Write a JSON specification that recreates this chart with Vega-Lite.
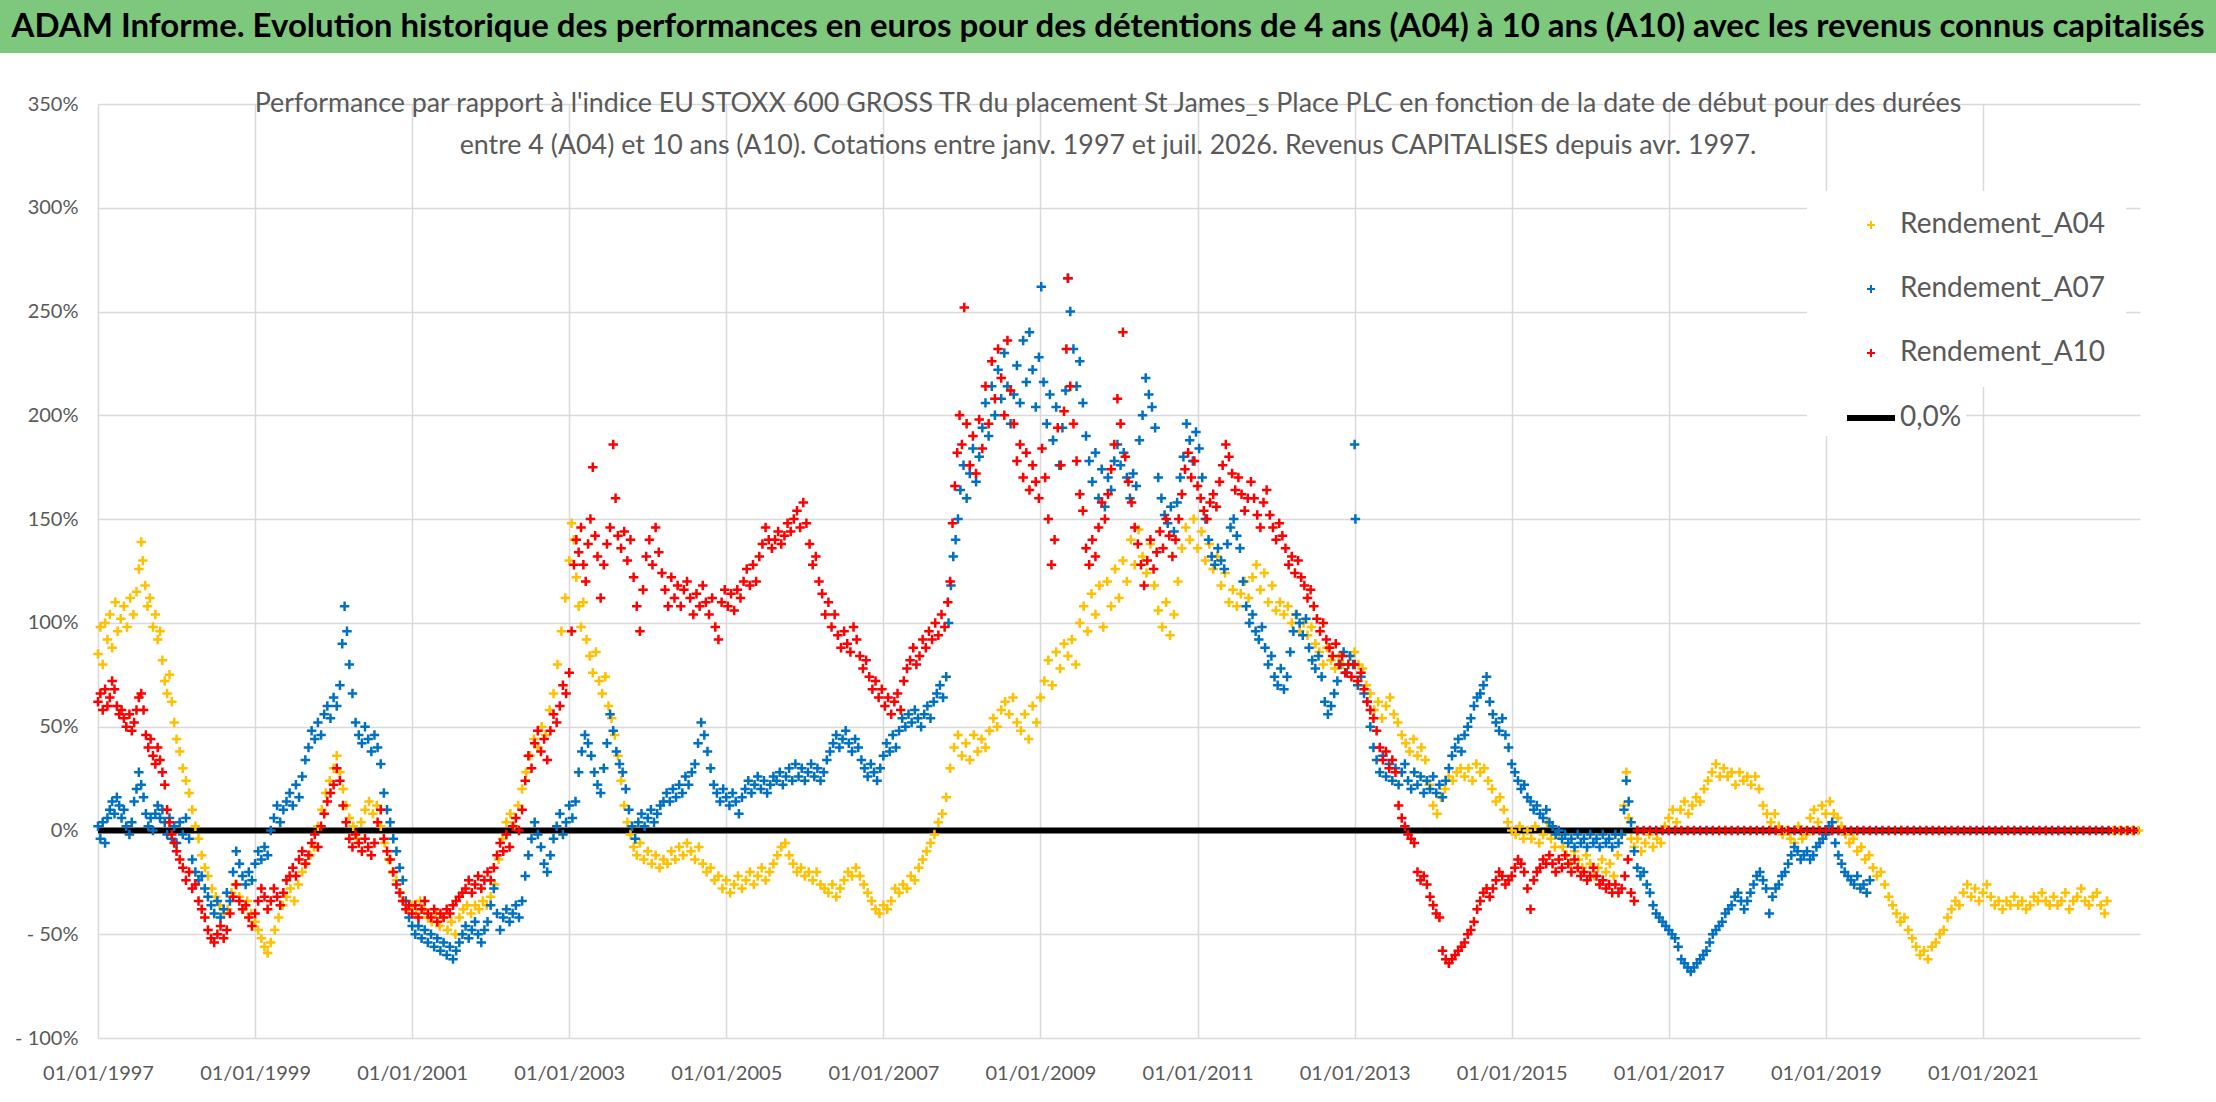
{
  "$schema": "https://vega.github.io/schema/vega-lite/v6.json",
  "background": "white",
  "padding": 0,
  "spacing": 38,
  "config": {
    "view": {"stroke": null},
    "axis": {
      "labelFont": "Lato",
      "labelColor": "#595959",
      "labelFontSize": 20,
      "gridColor": "#d9d9d9",
      "gridWidth": 1.5,
      "domain": false,
      "ticks": false,
      "labelFlush": false,
      "labelOverlap": false
    }
  },
  "datasets": {
    "A04": [
      {"t":1997.00,"v":85},{"t":1997.03,"v":98},{"t":1997.06,"v":80},{"t":1997.09,"v":100},{"t":1997.12,"v":92},{"t":1997.15,"v":104},{"t":1997.18,"v":88},{"t":1997.22,"v":110},{"t":1997.25,"v":96},{"t":1997.29,"v":102},{"t":1997.33,"v":108},{"t":1997.37,"v":98},{"t":1997.41,"v":112},{"t":1997.45,"v":104},{"t":1997.49,"v":115},{"t":1997.52,"v":126},{"t":1997.55,"v":139},{"t":1997.57,"v":130},{"t":1997.60,"v":118},{"t":1997.63,"v":108},{"t":1997.66,"v":112},{"t":1997.70,"v":98},{"t":1997.73,"v":104},{"t":1997.76,"v":92},{"t":1997.79,"v":96},{"t":1997.82,"v":82},{"t":1997.85,"v":72},{"t":1997.88,"v":66},{"t":1997.91,"v":75},{"t":1997.94,"v":62},{"t":1997.97,"v":52},
      {"t":1998.00,"v":44},{"t":1998.04,"v":38},{"t":1998.08,"v":30},{"t":1998.12,"v":24},{"t":1998.16,"v":18},{"t":1998.20,"v":10},{"t":1998.24,"v":2},{"t":1998.28,"v":-4},{"t":1998.32,"v":-12},{"t":1998.36,"v":-18},{"t":1998.40,"v":-22},{"t":1998.45,"v":-28},{"t":1998.50,"v":-32},{"t":1998.55,"v":-36},{"t":1998.60,"v":-40},{"t":1998.65,"v":-38},{"t":1998.70,"v":-30},{"t":1998.75,"v":-26},{"t":1998.80,"v":-32},{"t":1998.85,"v":-38},{"t":1998.90,"v":-34},{"t":1998.95,"v":-40},
      {"t":1999.00,"v":-44},{"t":1999.04,"v":-48},{"t":1999.08,"v":-52},{"t":1999.12,"v":-56},{"t":1999.16,"v":-59},{"t":1999.20,"v":-54},{"t":1999.25,"v":-48},{"t":1999.30,"v":-42},{"t":1999.35,"v":-36},{"t":1999.40,"v":-32},{"t":1999.45,"v":-28},{"t":1999.50,"v":-34},{"t":1999.55,"v":-26},{"t":1999.60,"v":-20},{"t":1999.65,"v":-16},{"t":1999.70,"v":-12},{"t":1999.75,"v":-8},{"t":1999.80,"v":2},{"t":1999.85,"v":10},{"t":1999.90,"v":18},{"t":1999.95,"v":24},
      {"t":2000.00,"v":30},{"t":2000.04,"v":36},{"t":2000.08,"v":28},{"t":2000.12,"v":20},{"t":2000.16,"v":12},{"t":2000.20,"v":6},{"t":2000.25,"v":2},{"t":2000.30,"v":-4},{"t":2000.35,"v":4},{"t":2000.40,"v":10},{"t":2000.45,"v":14},{"t":2000.50,"v":8},{"t":2000.55,"v":12},{"t":2000.60,"v":2},{"t":2000.65,"v":-6},{"t":2000.70,"v":-14},{"t":2000.75,"v":-20},{"t":2000.80,"v":-24},{"t":2000.85,"v":-30},{"t":2000.90,"v":-34},{"t":2000.95,"v":-38},
      {"t":2001.00,"v":-36},{"t":2001.05,"v":-40},{"t":2001.10,"v":-34},{"t":2001.15,"v":-38},{"t":2001.20,"v":-42},{"t":2001.25,"v":-44},{"t":2001.30,"v":-40},{"t":2001.35,"v":-46},{"t":2001.40,"v":-42},{"t":2001.45,"v":-48},{"t":2001.50,"v":-44},{"t":2001.55,"v":-50},{"t":2001.60,"v":-42},{"t":2001.65,"v":-38},{"t":2001.70,"v":-36},{"t":2001.75,"v":-40},{"t":2001.80,"v":-36},{"t":2001.85,"v":-38},{"t":2001.90,"v":-34},{"t":2001.95,"v":-36},
      {"t":2002.00,"v":-32},{"t":2002.05,"v":-26},{"t":2002.10,"v":-14},{"t":2002.15,"v":-4},{"t":2002.20,"v":4},{"t":2002.25,"v":8},{"t":2002.30,"v":2},{"t":2002.35,"v":12},{"t":2002.40,"v":20},{"t":2002.45,"v":28},{"t":2002.50,"v":36},{"t":2002.55,"v":44},{"t":2002.60,"v":40},{"t":2002.65,"v":50},{"t":2002.70,"v":46},{"t":2002.75,"v":58},{"t":2002.80,"v":66},{"t":2002.85,"v":80},{"t":2002.90,"v":96},{"t":2002.95,"v":112},
      {"t":2003.00,"v":130},{"t":2003.03,"v":148},{"t":2003.06,"v":140},{"t":2003.09,"v":122},{"t":2003.12,"v":108},{"t":2003.15,"v":98},{"t":2003.18,"v":110},{"t":2003.22,"v":92},{"t":2003.26,"v":84},{"t":2003.30,"v":76},{"t":2003.34,"v":86},{"t":2003.38,"v":72},{"t":2003.42,"v":66},{"t":2003.46,"v":74},{"t":2003.50,"v":60},{"t":2003.54,"v":54},{"t":2003.58,"v":46},{"t":2003.62,"v":36},{"t":2003.66,"v":24},{"t":2003.70,"v":12},{"t":2003.74,"v":4},{"t":2003.78,"v":-2},{"t":2003.82,"v":-8},{"t":2003.86,"v":-12},{"t":2003.90,"v":-6},{"t":2003.95,"v":-14},
      {"t":2004.00,"v":-10},{"t":2004.05,"v":-16},{"t":2004.10,"v":-12},{"t":2004.15,"v":-18},{"t":2004.20,"v":-14},{"t":2004.25,"v":-16},{"t":2004.30,"v":-10},{"t":2004.35,"v":-14},{"t":2004.40,"v":-8},{"t":2004.45,"v":-12},{"t":2004.50,"v":-6},{"t":2004.55,"v":-10},{"t":2004.60,"v":-14},{"t":2004.65,"v":-8},{"t":2004.70,"v":-16},{"t":2004.75,"v":-20},{"t":2004.80,"v":-18},{"t":2004.85,"v":-24},{"t":2004.90,"v":-22},{"t":2004.95,"v":-28},
      {"t":2005.00,"v":-24},{"t":2005.05,"v":-30},{"t":2005.10,"v":-26},{"t":2005.15,"v":-22},{"t":2005.20,"v":-28},{"t":2005.25,"v":-24},{"t":2005.30,"v":-20},{"t":2005.35,"v":-26},{"t":2005.40,"v":-22},{"t":2005.45,"v":-18},{"t":2005.50,"v":-24},{"t":2005.55,"v":-20},{"t":2005.60,"v":-16},{"t":2005.65,"v":-12},{"t":2005.70,"v":-8},{"t":2005.75,"v":-6},{"t":2005.80,"v":-12},{"t":2005.85,"v":-16},{"t":2005.90,"v":-20},{"t":2005.95,"v":-18},
      {"t":2006.00,"v":-22},{"t":2006.05,"v":-20},{"t":2006.10,"v":-24},{"t":2006.15,"v":-20},{"t":2006.20,"v":-26},{"t":2006.25,"v":-28},{"t":2006.30,"v":-30},{"t":2006.35,"v":-26},{"t":2006.40,"v":-32},{"t":2006.45,"v":-28},{"t":2006.50,"v":-24},{"t":2006.55,"v":-20},{"t":2006.60,"v":-22},{"t":2006.65,"v":-18},{"t":2006.70,"v":-22},{"t":2006.75,"v":-26},{"t":2006.80,"v":-30},{"t":2006.85,"v":-34},{"t":2006.90,"v":-38},{"t":2006.95,"v":-40},
      {"t":2007.00,"v":-36},{"t":2007.05,"v":-38},{"t":2007.10,"v":-34},{"t":2007.15,"v":-28},{"t":2007.20,"v":-30},{"t":2007.25,"v":-26},{"t":2007.30,"v":-28},{"t":2007.35,"v":-22},{"t":2007.40,"v":-24},{"t":2007.45,"v":-18},{"t":2007.50,"v":-14},{"t":2007.55,"v":-10},{"t":2007.60,"v":-6},{"t":2007.65,"v":-2},{"t":2007.70,"v":4},{"t":2007.75,"v":8},{"t":2007.80,"v":16},{"t":2007.85,"v":30},{"t":2007.90,"v":40},{"t":2007.95,"v":46},
      {"t":2008.00,"v":36},{"t":2008.05,"v":42},{"t":2008.10,"v":34},{"t":2008.15,"v":46},{"t":2008.20,"v":38},{"t":2008.25,"v":44},{"t":2008.30,"v":40},{"t":2008.35,"v":48},{"t":2008.40,"v":54},{"t":2008.45,"v":50},{"t":2008.50,"v":58},{"t":2008.55,"v":62},{"t":2008.60,"v":56},{"t":2008.65,"v":64},{"t":2008.70,"v":52},{"t":2008.75,"v":48},{"t":2008.80,"v":56},{"t":2008.85,"v":44},{"t":2008.90,"v":60},{"t":2008.95,"v":52},
      {"t":2009.00,"v":64},{"t":2009.05,"v":72},{"t":2009.10,"v":82},{"t":2009.15,"v":70},{"t":2009.20,"v":86},{"t":2009.25,"v":78},{"t":2009.30,"v":90},{"t":2009.35,"v":84},{"t":2009.40,"v":92},{"t":2009.45,"v":80},{"t":2009.50,"v":100},{"t":2009.55,"v":108},{"t":2009.60,"v":96},{"t":2009.65,"v":114},{"t":2009.70,"v":104},{"t":2009.75,"v":118},{"t":2009.80,"v":98},{"t":2009.85,"v":120},{"t":2009.90,"v":108},{"t":2009.95,"v":126},
      {"t":2010.00,"v":112},{"t":2010.05,"v":130},{"t":2010.10,"v":120},{"t":2010.15,"v":140},{"t":2010.20,"v":128},{"t":2010.25,"v":145},{"t":2010.30,"v":132},{"t":2010.35,"v":124},{"t":2010.40,"v":138},{"t":2010.45,"v":118},{"t":2010.50,"v":106},{"t":2010.55,"v":98},{"t":2010.60,"v":110},{"t":2010.65,"v":94},{"t":2010.70,"v":104},{"t":2010.75,"v":120},{"t":2010.80,"v":136},{"t":2010.85,"v":146},{"t":2010.90,"v":140},{"t":2010.95,"v":150},
      {"t":2011.00,"v":136},{"t":2011.05,"v":144},{"t":2011.10,"v":130},{"t":2011.15,"v":138},{"t":2011.20,"v":126},{"t":2011.25,"v":132},{"t":2011.30,"v":118},{"t":2011.35,"v":124},{"t":2011.40,"v":110},{"t":2011.45,"v":116},{"t":2011.50,"v":108},{"t":2011.55,"v":114},{"t":2011.60,"v":120},{"t":2011.65,"v":112},{"t":2011.70,"v":122},{"t":2011.75,"v":128},{"t":2011.80,"v":116},{"t":2011.85,"v":124},{"t":2011.90,"v":110},{"t":2011.95,"v":118},
      {"t":2012.00,"v":106},{"t":2012.05,"v":110},{"t":2012.10,"v":104},{"t":2012.15,"v":108},{"t":2012.20,"v":100},{"t":2012.25,"v":104},{"t":2012.30,"v":96},{"t":2012.35,"v":100},{"t":2012.40,"v":94},{"t":2012.45,"v":98},{"t":2012.50,"v":90},{"t":2012.55,"v":86},{"t":2012.60,"v":80},{"t":2012.65,"v":88},{"t":2012.70,"v":82},{"t":2012.75,"v":78},{"t":2012.80,"v":84},{"t":2012.85,"v":80},{"t":2012.90,"v":76},{"t":2012.95,"v":84},
      {"t":2013.00,"v":86},{"t":2013.05,"v":80},{"t":2013.10,"v":78},{"t":2013.15,"v":70},{"t":2013.20,"v":66},{"t":2013.25,"v":58},{"t":2013.30,"v":62},{"t":2013.35,"v":54},{"t":2013.40,"v":60},{"t":2013.45,"v":64},{"t":2013.50,"v":56},{"t":2013.55,"v":52},{"t":2013.60,"v":46},{"t":2013.65,"v":42},{"t":2013.70,"v":38},{"t":2013.75,"v":44},{"t":2013.80,"v":36},{"t":2013.85,"v":40},{"t":2013.90,"v":34},{"t":2013.95,"v":22},
      {"t":2014.00,"v":12},{"t":2014.05,"v":8},{"t":2014.10,"v":16},{"t":2014.15,"v":20},{"t":2014.20,"v":26},{"t":2014.25,"v":24},{"t":2014.30,"v":28},{"t":2014.35,"v":30},{"t":2014.40,"v":26},{"t":2014.45,"v":30},{"t":2014.50,"v":24},{"t":2014.55,"v":32},{"t":2014.60,"v":28},{"t":2014.65,"v":30},{"t":2014.70,"v":24},{"t":2014.75,"v":20},{"t":2014.80,"v":14},{"t":2014.85,"v":16},{"t":2014.90,"v":10},{"t":2014.95,"v":4},
      {"t":2015.00,"v":0},{"t":2015.05,"v":-2},{"t":2015.10,"v":2},{"t":2015.15,"v":-4},{"t":2015.20,"v":0},{"t":2015.25,"v":-4},{"t":2015.30,"v":2},{"t":2015.35,"v":-6},{"t":2015.40,"v":-2},{"t":2015.45,"v":4},{"t":2015.50,"v":-4},{"t":2015.55,"v":-8},{"t":2015.60,"v":-2},{"t":2015.65,"v":-8},{"t":2015.70,"v":-12},{"t":2015.75,"v":-16},{"t":2015.80,"v":-10},{"t":2015.85,"v":-14},{"t":2015.90,"v":-18},{"t":2015.95,"v":-12},
      {"t":2016.00,"v":-16},{"t":2016.05,"v":-22},{"t":2016.10,"v":-18},{"t":2016.15,"v":-14},{"t":2016.20,"v":-20},{"t":2016.25,"v":-16},{"t":2016.30,"v":-22},{"t":2016.35,"v":-12},{"t":2016.40,"v":-2},{"t":2016.43,"v":12},{"t":2016.46,"v":28},{"t":2016.49,"v":6},{"t":2016.52,"v":-4},{"t":2016.56,"v":-8},{"t":2016.60,"v":-4},{"t":2016.65,"v":-10},{"t":2016.70,"v":-6},{"t":2016.75,"v":-2},{"t":2016.80,"v":-8},{"t":2016.85,"v":-4},{"t":2016.90,"v":-6},{"t":2016.95,"v":2},
      {"t":2017.00,"v":6},{"t":2017.05,"v":10},{"t":2017.10,"v":4},{"t":2017.15,"v":10},{"t":2017.20,"v":14},{"t":2017.25,"v":8},{"t":2017.30,"v":12},{"t":2017.35,"v":16},{"t":2017.40,"v":14},{"t":2017.45,"v":20},{"t":2017.50,"v":24},{"t":2017.55,"v":28},{"t":2017.60,"v":32},{"t":2017.65,"v":26},{"t":2017.70,"v":30},{"t":2017.75,"v":26},{"t":2017.80,"v":28},{"t":2017.85,"v":22},{"t":2017.90,"v":28},{"t":2017.95,"v":24},
      {"t":2018.00,"v":26},{"t":2018.05,"v":22},{"t":2018.10,"v":26},{"t":2018.15,"v":20},{"t":2018.20,"v":12},{"t":2018.25,"v":8},{"t":2018.30,"v":4},{"t":2018.35,"v":8},{"t":2018.40,"v":2},{"t":2018.45,"v":-2},{"t":2018.50,"v":0},{"t":2018.55,"v":-4},{"t":2018.60,"v":-6},{"t":2018.65,"v":2},{"t":2018.70,"v":-4},{"t":2018.75,"v":-2},{"t":2018.80,"v":6},{"t":2018.85,"v":10},{"t":2018.90,"v":4},{"t":2018.95,"v":12},
      {"t":2019.00,"v":8},{"t":2019.05,"v":14},{"t":2019.10,"v":8},{"t":2019.15,"v":6},{"t":2019.20,"v":2},{"t":2019.25,"v":-2},{"t":2019.30,"v":-6},{"t":2019.35,"v":-4},{"t":2019.40,"v":-10},{"t":2019.45,"v":-8},{"t":2019.50,"v":-14},{"t":2019.55,"v":-12},{"t":2019.60,"v":-18},{"t":2019.65,"v":-22},{"t":2019.70,"v":-20},{"t":2019.75,"v":-26},{"t":2019.80,"v":-32},{"t":2019.85,"v":-36},{"t":2019.90,"v":-40},{"t":2019.95,"v":-44},
      {"t":2020.00,"v":-42},{"t":2020.05,"v":-48},{"t":2020.10,"v":-52},{"t":2020.15,"v":-56},{"t":2020.20,"v":-60},{"t":2020.25,"v":-58},{"t":2020.30,"v":-62},{"t":2020.35,"v":-56},{"t":2020.40,"v":-54},{"t":2020.45,"v":-50},{"t":2020.50,"v":-48},{"t":2020.55,"v":-42},{"t":2020.60,"v":-38},{"t":2020.65,"v":-34},{"t":2020.70,"v":-36},{"t":2020.75,"v":-30},{"t":2020.80,"v":-26},{"t":2020.85,"v":-32},{"t":2020.90,"v":-28},{"t":2020.95,"v":-34},
      {"t":2021.00,"v":-30},{"t":2021.05,"v":-26},{"t":2021.10,"v":-32},{"t":2021.15,"v":-36},{"t":2021.20,"v":-34},{"t":2021.25,"v":-38},{"t":2021.30,"v":-34},{"t":2021.35,"v":-36},{"t":2021.40,"v":-32},{"t":2021.45,"v":-36},{"t":2021.50,"v":-34},{"t":2021.55,"v":-38},{"t":2021.60,"v":-36},{"t":2021.65,"v":-32},{"t":2021.70,"v":-34},{"t":2021.75,"v":-30},{"t":2021.80,"v":-34},{"t":2021.85,"v":-36},{"t":2021.90,"v":-32},{"t":2021.95,"v":-36},
      {"t":2022.00,"v":-34},{"t":2022.05,"v":-30},{"t":2022.10,"v":-38},{"t":2022.15,"v":-34},{"t":2022.20,"v":-32},{"t":2022.25,"v":-28},{"t":2022.30,"v":-34},{"t":2022.35,"v":-36},{"t":2022.40,"v":-32},{"t":2022.45,"v":-30},{"t":2022.50,"v":-36},{"t":2022.55,"v":-40},{"t":2022.58,"v":-34},
      {"t":2022.66,"v":0},{"t":2022.74,"v":0},{"t":2022.82,"v":0},{"t":2022.90,"v":0},{"t":2022.98,"v":0}
    ],
    "A07": [
      {"t":1997.00,"v":2},{"t":1997.03,"v":-4},{"t":1997.06,"v":4},{"t":1997.09,"v":-6},{"t":1997.12,"v":6},{"t":1997.15,"v":10},{"t":1997.18,"v":14},{"t":1997.21,"v":8},{"t":1997.24,"v":16},{"t":1997.27,"v":12},{"t":1997.30,"v":6},{"t":1997.33,"v":10},{"t":1997.36,"v":2},{"t":1997.40,"v":-2},{"t":1997.43,"v":4},{"t":1997.46,"v":14},{"t":1997.49,"v":20},{"t":1997.52,"v":28},{"t":1997.55,"v":22},{"t":1997.58,"v":16},{"t":1997.61,"v":8},{"t":1997.64,"v":2},{"t":1997.67,"v":6},{"t":1997.70,"v":0},{"t":1997.73,"v":8},{"t":1997.76,"v":12},{"t":1997.79,"v":6},{"t":1997.82,"v":10},{"t":1997.85,"v":4},{"t":1997.88,"v":-2},{"t":1997.91,"v":6},{"t":1997.94,"v":-4},{"t":1997.97,"v":2},
      {"t":1998.00,"v":-6},{"t":1998.04,"v":4},{"t":1998.08,"v":-2},{"t":1998.12,"v":6},{"t":1998.16,"v":-4},{"t":1998.20,"v":-14},{"t":1998.24,"v":-20},{"t":1998.28,"v":-24},{"t":1998.32,"v":-22},{"t":1998.36,"v":-28},{"t":1998.40,"v":-32},{"t":1998.44,"v":-36},{"t":1998.48,"v":-40},{"t":1998.52,"v":-34},{"t":1998.56,"v":-42},{"t":1998.60,"v":-38},{"t":1998.64,"v":-30},{"t":1998.68,"v":-34},{"t":1998.72,"v":-20},{"t":1998.76,"v":-10},{"t":1998.80,"v":-16},{"t":1998.84,"v":-22},{"t":1998.88,"v":-26},{"t":1998.92,"v":-20},{"t":1998.96,"v":-24},
      {"t":1999.00,"v":-16},{"t":1999.04,"v":-10},{"t":1999.08,"v":-14},{"t":1999.12,"v":-8},{"t":1999.16,"v":-12},{"t":1999.20,"v":0},{"t":1999.24,"v":6},{"t":1999.28,"v":12},{"t":1999.32,"v":4},{"t":1999.36,"v":10},{"t":1999.40,"v":14},{"t":1999.44,"v":18},{"t":1999.48,"v":12},{"t":1999.52,"v":22},{"t":1999.56,"v":16},{"t":1999.60,"v":26},{"t":1999.64,"v":34},{"t":1999.68,"v":40},{"t":1999.72,"v":48},{"t":1999.76,"v":44},{"t":1999.80,"v":52},{"t":1999.84,"v":46},{"t":1999.88,"v":56},{"t":1999.92,"v":60},{"t":1999.96,"v":54},
      {"t":2000.00,"v":64},{"t":2000.04,"v":60},{"t":2000.08,"v":70},{"t":2000.11,"v":90},{"t":2000.14,"v":108},{"t":2000.17,"v":96},{"t":2000.20,"v":80},{"t":2000.24,"v":66},{"t":2000.28,"v":52},{"t":2000.32,"v":46},{"t":2000.36,"v":42},{"t":2000.40,"v":50},{"t":2000.44,"v":44},{"t":2000.48,"v":38},{"t":2000.52,"v":46},{"t":2000.56,"v":40},{"t":2000.60,"v":32},{"t":2000.64,"v":18},{"t":2000.68,"v":10},{"t":2000.72,"v":4},{"t":2000.76,"v":-4},{"t":2000.80,"v":-10},{"t":2000.84,"v":-18},{"t":2000.88,"v":-24},{"t":2000.92,"v":-34},{"t":2000.96,"v":-42},
      {"t":2001.00,"v":-46},{"t":2001.04,"v":-50},{"t":2001.08,"v":-46},{"t":2001.12,"v":-52},{"t":2001.16,"v":-48},{"t":2001.20,"v":-54},{"t":2001.24,"v":-50},{"t":2001.28,"v":-56},{"t":2001.32,"v":-52},{"t":2001.36,"v":-58},{"t":2001.40,"v":-54},{"t":2001.44,"v":-60},{"t":2001.48,"v":-56},{"t":2001.52,"v":-62},{"t":2001.56,"v":-58},{"t":2001.60,"v":-54},{"t":2001.64,"v":-50},{"t":2001.68,"v":-46},{"t":2001.72,"v":-52},{"t":2001.76,"v":-48},{"t":2001.80,"v":-44},{"t":2001.84,"v":-50},{"t":2001.88,"v":-54},{"t":2001.92,"v":-48},{"t":2001.96,"v":-44},
      {"t":2002.00,"v":-36},{"t":2002.04,"v":-28},{"t":2002.08,"v":-40},{"t":2002.12,"v":-48},{"t":2002.16,"v":-42},{"t":2002.20,"v":-38},{"t":2002.24,"v":-44},{"t":2002.28,"v":-40},{"t":2002.32,"v":-36},{"t":2002.36,"v":-42},{"t":2002.40,"v":-34},{"t":2002.44,"v":-22},{"t":2002.48,"v":-12},{"t":2002.52,"v":-4},{"t":2002.56,"v":4},{"t":2002.60,"v":-2},{"t":2002.64,"v":-8},{"t":2002.68,"v":-16},{"t":2002.72,"v":-20},{"t":2002.76,"v":-12},{"t":2002.80,"v":-4},{"t":2002.84,"v":2},{"t":2002.88,"v":8},{"t":2002.92,"v":-2},{"t":2002.96,"v":4},
      {"t":2003.00,"v":12},{"t":2003.04,"v":6},{"t":2003.08,"v":14},{"t":2003.12,"v":28},{"t":2003.16,"v":38},{"t":2003.20,"v":46},{"t":2003.24,"v":42},{"t":2003.28,"v":36},{"t":2003.32,"v":28},{"t":2003.36,"v":22},{"t":2003.40,"v":18},{"t":2003.44,"v":30},{"t":2003.48,"v":42},{"t":2003.52,"v":56},{"t":2003.56,"v":48},{"t":2003.60,"v":38},{"t":2003.64,"v":32},{"t":2003.68,"v":28},{"t":2003.72,"v":20},{"t":2003.76,"v":10},{"t":2003.80,"v":2},{"t":2003.84,"v":-4},{"t":2003.88,"v":4},{"t":2003.92,"v":8},{"t":2003.96,"v":2},
      {"t":2004.00,"v":6},{"t":2004.04,"v":10},{"t":2004.08,"v":4},{"t":2004.12,"v":8},{"t":2004.16,"v":12},{"t":2004.20,"v":14},{"t":2004.24,"v":18},{"t":2004.28,"v":14},{"t":2004.32,"v":20},{"t":2004.36,"v":16},{"t":2004.40,"v":22},{"t":2004.44,"v":18},{"t":2004.48,"v":26},{"t":2004.52,"v":22},{"t":2004.56,"v":28},{"t":2004.60,"v":32},{"t":2004.64,"v":42},{"t":2004.68,"v":52},{"t":2004.72,"v":46},{"t":2004.76,"v":38},{"t":2004.80,"v":30},{"t":2004.84,"v":22},{"t":2004.88,"v":18},{"t":2004.92,"v":14},{"t":2004.96,"v":20},
      {"t":2005.00,"v":16},{"t":2005.04,"v":12},{"t":2005.08,"v":18},{"t":2005.12,"v":14},{"t":2005.16,"v":8},{"t":2005.20,"v":16},{"t":2005.24,"v":20},{"t":2005.28,"v":24},{"t":2005.32,"v":18},{"t":2005.36,"v":22},{"t":2005.40,"v":26},{"t":2005.44,"v":20},{"t":2005.48,"v":24},{"t":2005.52,"v":18},{"t":2005.56,"v":22},{"t":2005.60,"v":26},{"t":2005.64,"v":24},{"t":2005.68,"v":28},{"t":2005.72,"v":22},{"t":2005.76,"v":26},{"t":2005.80,"v":30},{"t":2005.84,"v":24},{"t":2005.88,"v":32},{"t":2005.92,"v":26},{"t":2005.96,"v":30},
      {"t":2006.00,"v":24},{"t":2006.04,"v":28},{"t":2006.08,"v":32},{"t":2006.12,"v":26},{"t":2006.16,"v":30},{"t":2006.20,"v":24},{"t":2006.24,"v":28},{"t":2006.28,"v":34},{"t":2006.32,"v":38},{"t":2006.36,"v":42},{"t":2006.40,"v":46},{"t":2006.44,"v":40},{"t":2006.48,"v":44},{"t":2006.52,"v":48},{"t":2006.56,"v":42},{"t":2006.60,"v":38},{"t":2006.64,"v":44},{"t":2006.68,"v":40},{"t":2006.72,"v":34},{"t":2006.76,"v":30},{"t":2006.80,"v":26},{"t":2006.84,"v":32},{"t":2006.88,"v":28},{"t":2006.92,"v":24},{"t":2006.96,"v":30},
      {"t":2007.00,"v":36},{"t":2007.04,"v":42},{"t":2007.08,"v":38},{"t":2007.12,"v":46},{"t":2007.16,"v":40},{"t":2007.20,"v":48},{"t":2007.24,"v":54},{"t":2007.28,"v":50},{"t":2007.32,"v":56},{"t":2007.36,"v":52},{"t":2007.40,"v":58},{"t":2007.44,"v":54},{"t":2007.48,"v":50},{"t":2007.52,"v":56},{"t":2007.56,"v":60},{"t":2007.60,"v":54},{"t":2007.64,"v":62},{"t":2007.68,"v":66},{"t":2007.72,"v":70},{"t":2007.76,"v":64},{"t":2007.80,"v":74},{"t":2007.83,"v":100},{"t":2007.86,"v":118},{"t":2007.89,"v":132},{"t":2007.92,"v":140},{"t":2007.95,"v":150},{"t":2007.98,"v":164},
      {"t":2008.02,"v":176},{"t":2008.06,"v":160},{"t":2008.10,"v":172},{"t":2008.14,"v":184},{"t":2008.18,"v":168},{"t":2008.22,"v":180},{"t":2008.26,"v":194},{"t":2008.30,"v":206},{"t":2008.34,"v":190},{"t":2008.38,"v":214},{"t":2008.42,"v":200},{"t":2008.46,"v":222},{"t":2008.50,"v":208},{"t":2008.54,"v":230},{"t":2008.58,"v":214},{"t":2008.62,"v":196},{"t":2008.66,"v":210},{"t":2008.70,"v":224},{"t":2008.74,"v":206},{"t":2008.78,"v":236},{"t":2008.82,"v":216},{"t":2008.86,"v":240},{"t":2008.90,"v":222},{"t":2008.94,"v":204},{"t":2008.98,"v":228},
      {"t":2009.01,"v":262},{"t":2009.04,"v":216},{"t":2009.08,"v":196},{"t":2009.12,"v":210},{"t":2009.16,"v":188},{"t":2009.20,"v":204},{"t":2009.24,"v":176},{"t":2009.28,"v":194},{"t":2009.32,"v":212},{"t":2009.35,"v":266},{"t":2009.38,"v":250},{"t":2009.42,"v":232},{"t":2009.46,"v":214},{"t":2009.50,"v":226},{"t":2009.54,"v":206},{"t":2009.58,"v":190},{"t":2009.62,"v":178},{"t":2009.66,"v":168},{"t":2009.70,"v":182},{"t":2009.74,"v":160},{"t":2009.78,"v":174},{"t":2009.82,"v":156},{"t":2009.86,"v":170},{"t":2009.90,"v":164},{"t":2009.94,"v":178},{"t":2009.98,"v":186},
      {"t":2010.02,"v":176},{"t":2010.06,"v":182},{"t":2010.10,"v":170},{"t":2010.14,"v":160},{"t":2010.18,"v":172},{"t":2010.22,"v":166},{"t":2010.26,"v":188},{"t":2010.30,"v":200},{"t":2010.34,"v":218},{"t":2010.38,"v":210},{"t":2010.42,"v":204},{"t":2010.46,"v":194},{"t":2010.50,"v":170},{"t":2010.54,"v":160},{"t":2010.58,"v":152},{"t":2010.62,"v":148},{"t":2010.66,"v":156},{"t":2010.70,"v":144},{"t":2010.74,"v":158},{"t":2010.78,"v":170},{"t":2010.82,"v":180},{"t":2010.86,"v":196},{"t":2010.90,"v":188},{"t":2010.94,"v":178},{"t":2010.98,"v":192},
      {"t":2011.02,"v":184},{"t":2011.06,"v":170},{"t":2011.10,"v":150},{"t":2011.14,"v":140},{"t":2011.18,"v":132},{"t":2011.22,"v":128},{"t":2011.26,"v":136},{"t":2011.30,"v":130},{"t":2011.34,"v":126},{"t":2011.38,"v":138},{"t":2011.42,"v":146},{"t":2011.46,"v":150},{"t":2011.50,"v":142},{"t":2011.54,"v":136},{"t":2011.58,"v":120},{"t":2011.62,"v":108},{"t":2011.66,"v":100},{"t":2011.70,"v":104},{"t":2011.74,"v":96},{"t":2011.78,"v":92},{"t":2011.82,"v":98},{"t":2011.86,"v":88},{"t":2011.90,"v":80},{"t":2011.94,"v":84},{"t":2011.98,"v":74},
      {"t":2012.02,"v":70},{"t":2012.06,"v":78},{"t":2012.10,"v":68},{"t":2012.14,"v":74},{"t":2012.18,"v":86},{"t":2012.22,"v":96},{"t":2012.26,"v":104},{"t":2012.30,"v":100},{"t":2012.34,"v":94},{"t":2012.38,"v":102},{"t":2012.42,"v":88},{"t":2012.46,"v":82},{"t":2012.50,"v":78},{"t":2012.54,"v":84},{"t":2012.58,"v":74},{"t":2012.62,"v":62},{"t":2012.66,"v":56},{"t":2012.70,"v":60},{"t":2012.74,"v":66},{"t":2012.78,"v":72},{"t":2012.82,"v":80},{"t":2012.86,"v":86},{"t":2012.90,"v":76},{"t":2012.94,"v":84},{"t":2012.98,"v":80},
      {"t":2013.00,"v":186},{"t":2013.01,"v":150},{"t":2013.04,"v":70},{"t":2013.08,"v":74},{"t":2013.12,"v":66},{"t":2013.16,"v":62},{"t":2013.20,"v":50},{"t":2013.24,"v":40},{"t":2013.28,"v":34},{"t":2013.32,"v":28},{"t":2013.36,"v":36},{"t":2013.40,"v":26},{"t":2013.44,"v":32},{"t":2013.48,"v":24},{"t":2013.52,"v":30},{"t":2013.56,"v":22},{"t":2013.60,"v":28},{"t":2013.64,"v":32},{"t":2013.68,"v":24},{"t":2013.72,"v":20},{"t":2013.76,"v":28},{"t":2013.80,"v":22},{"t":2013.84,"v":26},{"t":2013.88,"v":18},{"t":2013.92,"v":24},{"t":2013.96,"v":20},
      {"t":2014.00,"v":26},{"t":2014.04,"v":18},{"t":2014.08,"v":22},{"t":2014.12,"v":16},{"t":2014.16,"v":24},{"t":2014.20,"v":30},{"t":2014.24,"v":36},{"t":2014.28,"v":40},{"t":2014.32,"v":44},{"t":2014.36,"v":38},{"t":2014.40,"v":46},{"t":2014.44,"v":50},{"t":2014.48,"v":54},{"t":2014.52,"v":60},{"t":2014.56,"v":64},{"t":2014.60,"v":66},{"t":2014.64,"v":70},{"t":2014.68,"v":74},{"t":2014.72,"v":62},{"t":2014.76,"v":56},{"t":2014.80,"v":52},{"t":2014.84,"v":48},{"t":2014.88,"v":54},{"t":2014.92,"v":46},{"t":2014.96,"v":40},
      {"t":2015.00,"v":32},{"t":2015.04,"v":28},{"t":2015.08,"v":24},{"t":2015.12,"v":20},{"t":2015.16,"v":22},{"t":2015.20,"v":16},{"t":2015.24,"v":14},{"t":2015.28,"v":10},{"t":2015.32,"v":12},{"t":2015.36,"v":8},{"t":2015.40,"v":6},{"t":2015.44,"v":10},{"t":2015.48,"v":4},{"t":2015.52,"v":2},{"t":2015.56,"v":-2},{"t":2015.60,"v":0},{"t":2015.64,"v":-4},{"t":2015.68,"v":-2},{"t":2015.72,"v":-6},{"t":2015.76,"v":-4},{"t":2015.80,"v":-8},{"t":2015.84,"v":-2},{"t":2015.88,"v":-6},{"t":2015.92,"v":-4},{"t":2015.96,"v":-8},
      {"t":2016.00,"v":-2},{"t":2016.04,"v":-6},{"t":2016.08,"v":-4},{"t":2016.12,"v":-8},{"t":2016.16,"v":-2},{"t":2016.20,"v":-6},{"t":2016.24,"v":-4},{"t":2016.28,"v":-8},{"t":2016.32,"v":-2},{"t":2016.36,"v":-6},{"t":2016.40,"v":-2},{"t":2016.43,"v":10},{"t":2016.46,"v":24},{"t":2016.49,"v":14},{"t":2016.52,"v":4},{"t":2016.56,"v":-10},{"t":2016.60,"v":-18},{"t":2016.64,"v":-22},{"t":2016.68,"v":-20},{"t":2016.72,"v":-26},{"t":2016.76,"v":-30},{"t":2016.80,"v":-36},{"t":2016.84,"v":-40},{"t":2016.88,"v":-42},{"t":2016.92,"v":-44},{"t":2016.96,"v":-46},
      {"t":2017.00,"v":-48},{"t":2017.04,"v":-50},{"t":2017.08,"v":-52},{"t":2017.12,"v":-56},{"t":2017.16,"v":-62},{"t":2017.20,"v":-64},{"t":2017.24,"v":-66},{"t":2017.28,"v":-68},{"t":2017.32,"v":-66},{"t":2017.36,"v":-64},{"t":2017.40,"v":-62},{"t":2017.44,"v":-60},{"t":2017.48,"v":-58},{"t":2017.52,"v":-54},{"t":2017.56,"v":-50},{"t":2017.60,"v":-48},{"t":2017.64,"v":-46},{"t":2017.68,"v":-44},{"t":2017.72,"v":-40},{"t":2017.76,"v":-38},{"t":2017.80,"v":-36},{"t":2017.84,"v":-32},{"t":2017.88,"v":-30},{"t":2017.92,"v":-34},{"t":2017.96,"v":-38},
      {"t":2018.00,"v":-34},{"t":2018.04,"v":-30},{"t":2018.08,"v":-26},{"t":2018.12,"v":-22},{"t":2018.16,"v":-20},{"t":2018.20,"v":-24},{"t":2018.24,"v":-28},{"t":2018.28,"v":-40},{"t":2018.32,"v":-32},{"t":2018.36,"v":-28},{"t":2018.40,"v":-26},{"t":2018.44,"v":-22},{"t":2018.48,"v":-20},{"t":2018.52,"v":-16},{"t":2018.56,"v":-12},{"t":2018.60,"v":-8},{"t":2018.64,"v":-10},{"t":2018.68,"v":-14},{"t":2018.72,"v":-12},{"t":2018.76,"v":-10},{"t":2018.80,"v":-14},{"t":2018.84,"v":-12},{"t":2018.88,"v":-8},{"t":2018.92,"v":-6},{"t":2018.96,"v":-4},
      {"t":2019.00,"v":-2},{"t":2019.04,"v":2},{"t":2019.08,"v":4},{"t":2019.12,"v":-6},{"t":2019.16,"v":-12},{"t":2019.20,"v":-16},{"t":2019.24,"v":-20},{"t":2019.28,"v":-22},{"t":2019.32,"v":-24},{"t":2019.36,"v":-26},{"t":2019.40,"v":-22},{"t":2019.44,"v":-28},{"t":2019.48,"v":-26},{"t":2019.52,"v":-30},{"t":2019.56,"v":-24}
    ],
    "A10": [
      {"t":1997.00,"v":62},{"t":1997.03,"v":66},{"t":1997.06,"v":58},{"t":1997.09,"v":68},{"t":1997.12,"v":60},{"t":1997.15,"v":64},{"t":1997.18,"v":72},{"t":1997.21,"v":68},{"t":1997.24,"v":60},{"t":1997.27,"v":56},{"t":1997.30,"v":58},{"t":1997.33,"v":54},{"t":1997.36,"v":50},{"t":1997.40,"v":56},{"t":1997.43,"v":48},{"t":1997.46,"v":52},{"t":1997.49,"v":58},{"t":1997.52,"v":64},{"t":1997.55,"v":66},{"t":1997.58,"v":58},{"t":1997.61,"v":46},{"t":1997.64,"v":40},{"t":1997.67,"v":44},{"t":1997.70,"v":36},{"t":1997.73,"v":32},{"t":1997.76,"v":40},{"t":1997.79,"v":34},{"t":1997.82,"v":28},{"t":1997.85,"v":22},{"t":1997.88,"v":10},{"t":1997.91,"v":4},{"t":1997.94,"v":-2},{"t":1997.97,"v":-6},
      {"t":1998.00,"v":-10},{"t":1998.04,"v":-14},{"t":1998.08,"v":-18},{"t":1998.12,"v":-24},{"t":1998.16,"v":-20},{"t":1998.20,"v":-28},{"t":1998.24,"v":-26},{"t":1998.28,"v":-34},{"t":1998.32,"v":-38},{"t":1998.36,"v":-42},{"t":1998.40,"v":-48},{"t":1998.44,"v":-52},{"t":1998.48,"v":-54},{"t":1998.52,"v":-50},{"t":1998.56,"v":-46},{"t":1998.60,"v":-52},{"t":1998.64,"v":-48},{"t":1998.68,"v":-40},{"t":1998.72,"v":-32},{"t":1998.76,"v":-26},{"t":1998.80,"v":-34},{"t":1998.84,"v":-38},{"t":1998.88,"v":-36},{"t":1998.92,"v":-42},{"t":1998.96,"v":-46},
      {"t":1999.00,"v":-40},{"t":1999.04,"v":-34},{"t":1999.08,"v":-28},{"t":1999.12,"v":-32},{"t":1999.16,"v":-38},{"t":1999.20,"v":-34},{"t":1999.24,"v":-28},{"t":1999.28,"v":-32},{"t":1999.32,"v":-36},{"t":1999.36,"v":-30},{"t":1999.40,"v":-24},{"t":1999.44,"v":-22},{"t":1999.48,"v":-18},{"t":1999.52,"v":-22},{"t":1999.56,"v":-14},{"t":1999.60,"v":-10},{"t":1999.64,"v":-16},{"t":1999.68,"v":-12},{"t":1999.72,"v":-6},{"t":1999.76,"v":-2},{"t":1999.80,"v":-8},{"t":1999.84,"v":2},{"t":1999.88,"v":8},{"t":1999.92,"v":14},{"t":1999.96,"v":18},
      {"t":2000.00,"v":22},{"t":2000.04,"v":30},{"t":2000.08,"v":24},{"t":2000.12,"v":12},{"t":2000.16,"v":4},{"t":2000.20,"v":-4},{"t":2000.24,"v":-8},{"t":2000.28,"v":-2},{"t":2000.32,"v":-6},{"t":2000.36,"v":-10},{"t":2000.40,"v":-4},{"t":2000.44,"v":-8},{"t":2000.48,"v":-12},{"t":2000.52,"v":-6},{"t":2000.56,"v":4},{"t":2000.60,"v":10},{"t":2000.64,"v":-4},{"t":2000.68,"v":-10},{"t":2000.72,"v":-14},{"t":2000.76,"v":-20},{"t":2000.80,"v":-26},{"t":2000.84,"v":-30},{"t":2000.88,"v":-34},{"t":2000.92,"v":-38},{"t":2000.96,"v":-36},
      {"t":2001.00,"v":-40},{"t":2001.04,"v":-36},{"t":2001.08,"v":-42},{"t":2001.12,"v":-38},{"t":2001.16,"v":-34},{"t":2001.20,"v":-40},{"t":2001.24,"v":-42},{"t":2001.28,"v":-38},{"t":2001.32,"v":-44},{"t":2001.36,"v":-40},{"t":2001.40,"v":-42},{"t":2001.44,"v":-38},{"t":2001.48,"v":-40},{"t":2001.52,"v":-36},{"t":2001.56,"v":-34},{"t":2001.60,"v":-32},{"t":2001.64,"v":-30},{"t":2001.68,"v":-28},{"t":2001.72,"v":-24},{"t":2001.76,"v":-30},{"t":2001.80,"v":-26},{"t":2001.84,"v":-22},{"t":2001.88,"v":-28},{"t":2001.92,"v":-24},{"t":2001.96,"v":-20},
      {"t":2002.00,"v":-24},{"t":2002.04,"v":-18},{"t":2002.08,"v":-12},{"t":2002.12,"v":-6},{"t":2002.16,"v":-10},{"t":2002.20,"v":-2},{"t":2002.24,"v":-8},{"t":2002.28,"v":2},{"t":2002.32,"v":6},{"t":2002.36,"v":0},{"t":2002.40,"v":10},{"t":2002.44,"v":24},{"t":2002.48,"v":36},{"t":2002.52,"v":30},{"t":2002.56,"v":42},{"t":2002.60,"v":48},{"t":2002.64,"v":38},{"t":2002.68,"v":44},{"t":2002.72,"v":34},{"t":2002.76,"v":48},{"t":2002.80,"v":56},{"t":2002.84,"v":52},{"t":2002.88,"v":60},{"t":2002.92,"v":70},{"t":2002.96,"v":66},
      {"t":2003.00,"v":76},{"t":2003.03,"v":96},{"t":2003.06,"v":128},{"t":2003.09,"v":140},{"t":2003.12,"v":134},{"t":2003.15,"v":146},{"t":2003.18,"v":128},{"t":2003.21,"v":120},{"t":2003.24,"v":138},{"t":2003.27,"v":150},{"t":2003.30,"v":175},{"t":2003.33,"v":142},{"t":2003.36,"v":132},{"t":2003.40,"v":112},{"t":2003.44,"v":128},{"t":2003.48,"v":138},{"t":2003.52,"v":146},{"t":2003.56,"v":186},{"t":2003.59,"v":160},{"t":2003.62,"v":142},{"t":2003.66,"v":136},{"t":2003.70,"v":144},{"t":2003.74,"v":130},{"t":2003.78,"v":140},{"t":2003.82,"v":122},{"t":2003.86,"v":108},{"t":2003.90,"v":96},{"t":2003.94,"v":116},{"t":2003.98,"v":132},
      {"t":2004.02,"v":140},{"t":2004.06,"v":128},{"t":2004.10,"v":146},{"t":2004.14,"v":134},{"t":2004.18,"v":124},{"t":2004.22,"v":116},{"t":2004.26,"v":108},{"t":2004.30,"v":122},{"t":2004.34,"v":112},{"t":2004.38,"v":118},{"t":2004.42,"v":108},{"t":2004.46,"v":116},{"t":2004.50,"v":120},{"t":2004.54,"v":112},{"t":2004.58,"v":104},{"t":2004.62,"v":114},{"t":2004.66,"v":108},{"t":2004.70,"v":118},{"t":2004.74,"v":110},{"t":2004.78,"v":104},{"t":2004.82,"v":112},{"t":2004.86,"v":98},{"t":2004.90,"v":92},{"t":2004.94,"v":110},{"t":2004.98,"v":116},
      {"t":2005.02,"v":108},{"t":2005.06,"v":114},{"t":2005.10,"v":106},{"t":2005.14,"v":116},{"t":2005.18,"v":112},{"t":2005.22,"v":120},{"t":2005.26,"v":126},{"t":2005.30,"v":118},{"t":2005.34,"v":128},{"t":2005.38,"v":120},{"t":2005.42,"v":132},{"t":2005.46,"v":138},{"t":2005.50,"v":146},{"t":2005.54,"v":140},{"t":2005.58,"v":136},{"t":2005.62,"v":140},{"t":2005.66,"v":144},{"t":2005.70,"v":138},{"t":2005.74,"v":142},{"t":2005.78,"v":148},{"t":2005.82,"v":144},{"t":2005.86,"v":150},{"t":2005.90,"v":154},{"t":2005.94,"v":146},{"t":2005.98,"v":158},
      {"t":2006.02,"v":148},{"t":2006.06,"v":138},{"t":2006.10,"v":128},{"t":2006.14,"v":132},{"t":2006.18,"v":120},{"t":2006.22,"v":114},{"t":2006.26,"v":104},{"t":2006.30,"v":110},{"t":2006.34,"v":98},{"t":2006.38,"v":104},{"t":2006.42,"v":94},{"t":2006.46,"v":88},{"t":2006.50,"v":96},{"t":2006.54,"v":90},{"t":2006.58,"v":86},{"t":2006.62,"v":98},{"t":2006.66,"v":92},{"t":2006.70,"v":84},{"t":2006.74,"v":78},{"t":2006.78,"v":82},{"t":2006.82,"v":74},{"t":2006.86,"v":68},{"t":2006.90,"v":72},{"t":2006.94,"v":64},{"t":2006.98,"v":68},
      {"t":2007.02,"v":60},{"t":2007.06,"v":64},{"t":2007.10,"v":56},{"t":2007.14,"v":62},{"t":2007.18,"v":66},{"t":2007.22,"v":58},{"t":2007.26,"v":72},{"t":2007.30,"v":78},{"t":2007.34,"v":82},{"t":2007.38,"v":88},{"t":2007.42,"v":80},{"t":2007.46,"v":84},{"t":2007.50,"v":92},{"t":2007.54,"v":88},{"t":2007.58,"v":96},{"t":2007.62,"v":92},{"t":2007.66,"v":100},{"t":2007.70,"v":94},{"t":2007.74,"v":104},{"t":2007.78,"v":98},{"t":2007.82,"v":110},{"t":2007.85,"v":120},{"t":2007.88,"v":148},{"t":2007.91,"v":166},{"t":2007.94,"v":182},{"t":2007.97,"v":200},
      {"t":2008.00,"v":186},{"t":2008.03,"v":252},{"t":2008.06,"v":196},{"t":2008.10,"v":176},{"t":2008.14,"v":190},{"t":2008.18,"v":172},{"t":2008.22,"v":198},{"t":2008.26,"v":184},{"t":2008.30,"v":214},{"t":2008.34,"v":196},{"t":2008.38,"v":226},{"t":2008.42,"v":208},{"t":2008.46,"v":232},{"t":2008.50,"v":218},{"t":2008.54,"v":200},{"t":2008.58,"v":236},{"t":2008.62,"v":212},{"t":2008.66,"v":196},{"t":2008.70,"v":178},{"t":2008.74,"v":186},{"t":2008.78,"v":170},{"t":2008.82,"v":182},{"t":2008.86,"v":164},{"t":2008.90,"v":176},{"t":2008.94,"v":168},{"t":2008.98,"v":160},
      {"t":2009.02,"v":184},{"t":2009.06,"v":170},{"t":2009.10,"v":150},{"t":2009.14,"v":128},{"t":2009.18,"v":140},{"t":2009.22,"v":194},{"t":2009.26,"v":176},{"t":2009.30,"v":202},{"t":2009.33,"v":232},{"t":2009.35,"v":266},{"t":2009.38,"v":214},{"t":2009.42,"v":196},{"t":2009.46,"v":178},{"t":2009.50,"v":162},{"t":2009.54,"v":154},{"t":2009.58,"v":136},{"t":2009.62,"v":128},{"t":2009.66,"v":140},{"t":2009.70,"v":132},{"t":2009.74,"v":146},{"t":2009.78,"v":158},{"t":2009.82,"v":150},{"t":2009.86,"v":162},{"t":2009.90,"v":174},{"t":2009.94,"v":186},{"t":2009.98,"v":208},
      {"t":2010.02,"v":196},{"t":2010.05,"v":240},{"t":2010.08,"v":180},{"t":2010.12,"v":168},{"t":2010.16,"v":158},{"t":2010.20,"v":146},{"t":2010.24,"v":138},{"t":2010.28,"v":128},{"t":2010.32,"v":118},{"t":2010.36,"v":130},{"t":2010.40,"v":140},{"t":2010.44,"v":126},{"t":2010.48,"v":134},{"t":2010.52,"v":144},{"t":2010.56,"v":136},{"t":2010.60,"v":150},{"t":2010.64,"v":142},{"t":2010.68,"v":132},{"t":2010.72,"v":140},{"t":2010.76,"v":150},{"t":2010.80,"v":162},{"t":2010.84,"v":174},{"t":2010.88,"v":182},{"t":2010.92,"v":170},{"t":2010.96,"v":178},
      {"t":2011.00,"v":166},{"t":2011.04,"v":160},{"t":2011.08,"v":154},{"t":2011.12,"v":150},{"t":2011.16,"v":158},{"t":2011.20,"v":162},{"t":2011.24,"v":156},{"t":2011.28,"v":168},{"t":2011.32,"v":176},{"t":2011.36,"v":186},{"t":2011.40,"v":180},{"t":2011.44,"v":172},{"t":2011.48,"v":164},{"t":2011.52,"v":170},{"t":2011.56,"v":162},{"t":2011.60,"v":154},{"t":2011.64,"v":160},{"t":2011.68,"v":168},{"t":2011.72,"v":160},{"t":2011.76,"v":152},{"t":2011.80,"v":146},{"t":2011.84,"v":158},{"t":2011.88,"v":164},{"t":2011.92,"v":152},{"t":2011.96,"v":146},
      {"t":2012.00,"v":140},{"t":2012.04,"v":148},{"t":2012.08,"v":142},{"t":2012.12,"v":136},{"t":2012.16,"v":128},{"t":2012.20,"v":132},{"t":2012.24,"v":124},{"t":2012.28,"v":130},{"t":2012.32,"v":122},{"t":2012.36,"v":118},{"t":2012.40,"v":112},{"t":2012.44,"v":116},{"t":2012.48,"v":108},{"t":2012.52,"v":102},{"t":2012.56,"v":96},{"t":2012.60,"v":100},{"t":2012.64,"v":92},{"t":2012.68,"v":88},{"t":2012.72,"v":84},{"t":2012.76,"v":90},{"t":2012.80,"v":80},{"t":2012.84,"v":84},{"t":2012.88,"v":76},{"t":2012.92,"v":80},{"t":2012.96,"v":74},
      {"t":2013.00,"v":80},{"t":2013.04,"v":72},{"t":2013.08,"v":76},{"t":2013.12,"v":68},{"t":2013.16,"v":62},{"t":2013.20,"v":58},{"t":2013.24,"v":54},{"t":2013.28,"v":48},{"t":2013.32,"v":40},{"t":2013.36,"v":34},{"t":2013.40,"v":38},{"t":2013.44,"v":30},{"t":2013.48,"v":34},{"t":2013.52,"v":28},{"t":2013.56,"v":12},{"t":2013.60,"v":6},{"t":2013.64,"v":2},{"t":2013.68,"v":-2},{"t":2013.72,"v":-4},{"t":2013.76,"v":-6},{"t":2013.80,"v":-20},{"t":2013.84,"v":-24},{"t":2013.88,"v":-22},{"t":2013.92,"v":-26},{"t":2013.96,"v":-32},
      {"t":2014.00,"v":-36},{"t":2014.04,"v":-40},{"t":2014.08,"v":-42},{"t":2014.12,"v":-58},{"t":2014.16,"v":-62},{"t":2014.20,"v":-64},{"t":2014.24,"v":-62},{"t":2014.28,"v":-60},{"t":2014.32,"v":-58},{"t":2014.36,"v":-56},{"t":2014.40,"v":-54},{"t":2014.44,"v":-50},{"t":2014.48,"v":-48},{"t":2014.52,"v":-44},{"t":2014.56,"v":-38},{"t":2014.60,"v":-34},{"t":2014.64,"v":-30},{"t":2014.68,"v":-28},{"t":2014.72,"v":-32},{"t":2014.76,"v":-28},{"t":2014.80,"v":-24},{"t":2014.84,"v":-20},{"t":2014.88,"v":-22},{"t":2014.92,"v":-26},{"t":2014.96,"v":-24},
      {"t":2015.00,"v":-22},{"t":2015.04,"v":-18},{"t":2015.08,"v":-14},{"t":2015.12,"v":-16},{"t":2015.16,"v":-20},{"t":2015.20,"v":-28},{"t":2015.24,"v":-38},{"t":2015.28,"v":-24},{"t":2015.32,"v":-20},{"t":2015.36,"v":-18},{"t":2015.40,"v":-14},{"t":2015.44,"v":-16},{"t":2015.48,"v":-12},{"t":2015.52,"v":-16},{"t":2015.56,"v":-20},{"t":2015.60,"v":-14},{"t":2015.64,"v":-18},{"t":2015.68,"v":-12},{"t":2015.72,"v":-16},{"t":2015.76,"v":-20},{"t":2015.80,"v":-14},{"t":2015.84,"v":-18},{"t":2015.88,"v":-22},{"t":2015.92,"v":-20},{"t":2015.96,"v":-24},
      {"t":2016.00,"v":-22},{"t":2016.04,"v":-18},{"t":2016.08,"v":-22},{"t":2016.12,"v":-26},{"t":2016.16,"v":-24},{"t":2016.20,"v":-28},{"t":2016.24,"v":-26},{"t":2016.28,"v":-30},{"t":2016.32,"v":-26},{"t":2016.36,"v":-30},{"t":2016.40,"v":-28},{"t":2016.44,"v":-22},{"t":2016.48,"v":-14},{"t":2016.52,"v":-30},{"t":2016.56,"v":-34},
      {"t":2016.60,"v":0},{"t":2016.68,"v":0},{"t":2016.76,"v":0},{"t":2016.84,"v":0},{"t":2016.92,"v":0},{"t":2017.00,"v":0},{"t":2017.08,"v":0},{"t":2017.16,"v":0},{"t":2017.24,"v":0},{"t":2017.32,"v":0},{"t":2017.40,"v":0},{"t":2017.48,"v":0},{"t":2017.56,"v":0},{"t":2017.64,"v":0},{"t":2017.72,"v":0},{"t":2017.80,"v":0},{"t":2017.88,"v":0},{"t":2017.96,"v":0},
      {"t":2018.04,"v":0},{"t":2018.12,"v":0},{"t":2018.20,"v":0},{"t":2018.28,"v":0},{"t":2018.36,"v":0},{"t":2018.44,"v":0},{"t":2018.52,"v":0},{"t":2018.60,"v":0},{"t":2018.68,"v":0},{"t":2018.76,"v":0},{"t":2018.84,"v":0},{"t":2018.92,"v":0},
      {"t":2019.00,"v":0},{"t":2019.08,"v":0},{"t":2019.16,"v":0},{"t":2019.24,"v":0},{"t":2019.32,"v":0},{"t":2019.40,"v":0},{"t":2019.48,"v":0},{"t":2019.56,"v":0},{"t":2019.64,"v":0},{"t":2019.72,"v":0},{"t":2019.80,"v":0},{"t":2019.88,"v":0},{"t":2019.96,"v":0},
      {"t":2020.04,"v":0},{"t":2020.12,"v":0},{"t":2020.20,"v":0},{"t":2020.28,"v":0},{"t":2020.36,"v":0},{"t":2020.44,"v":0},{"t":2020.52,"v":0},{"t":2020.60,"v":0},{"t":2020.68,"v":0},{"t":2020.76,"v":0},{"t":2020.84,"v":0},{"t":2020.92,"v":0},
      {"t":2021.00,"v":0},{"t":2021.08,"v":0},{"t":2021.16,"v":0},{"t":2021.24,"v":0},{"t":2021.32,"v":0},{"t":2021.40,"v":0},{"t":2021.48,"v":0},{"t":2021.56,"v":0},{"t":2021.64,"v":0},{"t":2021.72,"v":0},{"t":2021.80,"v":0},{"t":2021.88,"v":0},{"t":2021.96,"v":0},
      {"t":2022.04,"v":0},{"t":2022.12,"v":0},{"t":2022.20,"v":0},{"t":2022.28,"v":0},{"t":2022.36,"v":0},{"t":2022.44,"v":0},{"t":2022.52,"v":0},{"t":2022.60,"v":0},{"t":2022.68,"v":0},{"t":2022.76,"v":0},{"t":2022.84,"v":0},{"t":2022.92,"v":0}
    ],
    "zero": [
      {"t":1997,"v":0},{"t":2023,"v":0}
    ]
  },
  "vconcat": [
    {
      "width": 2216,
      "height": 53,
      "data": {"values": [{"title": "ADAM Informe. Evolution historique des performances en euros pour des détentions de 4 ans (A04) à 10 ans (A10) avec les revenus connus capitalisés"}]},
      "layer": [
        {"mark": {"type": "rect", "color": "#7dc87d"}, "encoding": {}},
        {
          "mark": {"type": "text", "font": "Lato", "fontWeight": "bold", "fontSize": 33, "color": "black", "align": "center", "baseline": "middle"},
          "encoding": {"text": {"field": "title"}}
        }
      ]
    },
    {
      "width": 2216,
      "height": 934,
      "title": {
        "text": [
          "Performance par rapport à l'indice EU STOXX 600 GROSS TR  du placement St James_s Place PLC en fonction de la date de début pour des durées",
          "entre 4 (A04) et 10 ans (A10). Cotations entre janv. 1997 et juil. 2026. Revenus CAPITALISES depuis avr. 1997."
        ],
        "font": "Lato",
        "fontSize": 26.8,
        "fontWeight": "normal",
        "lineHeight": 42,
        "color": "#595959",
        "anchor": "middle",
        "baseline": "top",
        "offset": -66
      },
      "encoding": {
        "x": {
          "field": "t",
          "type": "quantitative",
          "scale": {"domain": [1997, 2023], "range": [98, 2140], "nice": false, "zero": false},
          "axis": {
            "title": null,
            "values": [1997, 1999, 2001, 2003, 2005, 2007, 2009, 2011, 2013, 2015, 2017, 2019, 2021],
            "labelExpr": "'01/01/' + datum.value",
            "labelPadding": 25
          }
        },
        "y": {
          "field": "v",
          "type": "quantitative",
          "scale": {"domain": [-100, 350], "nice": false, "zero": false},
          "axis": {
            "title": null,
            "offset": -98,
            "values": [-100, -50, 0, 50, 100, 150, 200, 250, 300, 350],
            "labelExpr": "datum.value < 0 ? '- ' + (-datum.value) + '%' : datum.value + '%'",
            "labelPadding": 20
          }
        }
      },
      "layer": [
        {
          "data": {"name": "zero"},
          "mark": {"type": "line", "strokeWidth": 6},
          "encoding": {
            "stroke": {
              "datum": "0,0%",
              "scale": {"range": ["#000000"]},
              "legend": {
                "title": null,
                "orient": "none",
                "legendX": 1807,
                "legendY": 387,
                "fillColor": "white",
                "padding": 4,
                "labelFont": "Lato",
                "labelFontSize": 28,
                "labelColor": "#595959",
                "labelOffset": 2,
                "labelLimit": 600,
                "symbolType": "stroke",
                "symbolSize": 2304,
                "symbolOffset": 33,
                "symbolStrokeWidth": 6,
                "labelExpr": "datum.label + '                                  '"
              }
            }
          }
        },
        {
          "data": {"name": "A04"},
          "mark": {"type": "point", "shape": "M-1,0H1M0,-1V1", "filled": false, "size": 90, "strokeWidth": 2.5, "opacity": 1},
          "encoding": {
            "color": {
              "datum": "Rendement_A04",
              "scale": {
                "domain": ["Rendement_A04", "Rendement_A07", "Rendement_A10"],
                "range": ["#ffc000", "#0070c0", "#ff0000"]
              },
              "legend": {
                "title": null,
                "orient": "none",
                "legendX": 1807,
                "legendY": 191,
                "fillColor": "white",
                "padding": 20,
                "labelFont": "Lato",
                "labelFontSize": 28,
                "labelColor": "#595959",
                "labelOffset": 15,
                "labelLimit": 600,
                "rowPadding": 36,
                "symbolSize": 64,
                "symbolOffset": 30,
                "symbolType": "M-1,0H1M0,-1V1",
                "symbolStrokeWidth": 2,
                "symbolFillColor": "transparent",
                "labelExpr": "datum.label + '   '"
              }
            }
          }
        },
        {
          "data": {"name": "A07"},
          "mark": {"type": "point", "shape": "M-1,0H1M0,-1V1", "filled": false, "size": 90, "strokeWidth": 2.5, "opacity": 1},
          "encoding": {"color": {"datum": "Rendement_A07"}}
        },
        {
          "data": {"name": "A10"},
          "mark": {"type": "point", "shape": "M-1,0H1M0,-1V1", "filled": false, "size": 90, "strokeWidth": 2.5, "opacity": 1},
          "encoding": {"color": {"datum": "Rendement_A10"}}
        }
      ]
    }
  ]
}
